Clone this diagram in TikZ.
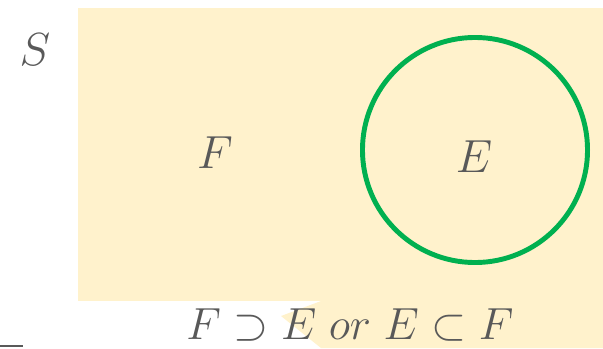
\documentclass[tikz,border=0pt]{standalone}
\usepackage{fix-cm}
\usepackage{amsmath,amssymb}
\usepackage{tikz}
\usetikzlibrary{positioning}
\definecolor{setfill}{HTML}{FFF2CC}
\definecolor{setgreen}{HTML}{00B050}
\definecolor{labelgray}{HTML}{595959}

\begin{document}
\begin{tikzpicture}[x=0.025cm, y=-0.025cm,
  lbl/.style={text=labelgray, font=\fontsize{33}{40}\selectfont, inner sep=0pt}]
\useasboundingbox (0,0) rectangle (603,348);
% sample space and the tab under it
\fill[setfill] (78,8) rectangle (603,301);
\fill[setfill] (321,301) -- (603,301) -- (603,348) -- (321,348) -- (281,316) -- cycle;
\draw[labelgray, line width=1.4pt] (0,346) -- (23,346);

\node[circle, draw=setgreen, line width=3.5pt, minimum size=5.625cm, inner sep=0pt] (Eset) at (475,150) {};

\node[lbl] (S) at (35,50) {$S$};
\node[lbl] (F) at (215,153) {$F$};
\node[lbl] (E) at (474,157) {$E$};
\node[lbl, font=\fontsize{32}{38}\selectfont] (rel) at (350,325) {$F \supset E \; or \; E \subset F$};
\end{tikzpicture}
\end{document}
